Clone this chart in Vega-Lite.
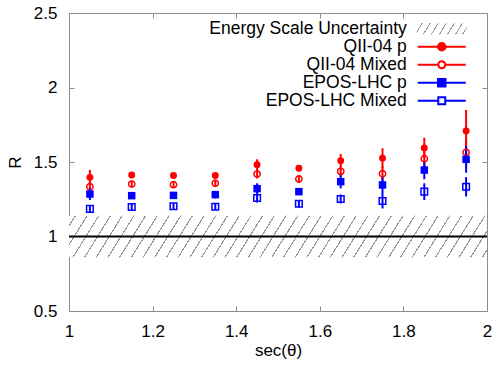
{
  "$schema": "https://vega.github.io/schema/vega-lite/v6.json",
  "width": 418,
  "height": 298,
  "autosize": {"type": "none"},
  "padding": {"left": 69, "top": 13, "right": 10, "bottom": 55},
  "background": "white",
  "config": {
    "font": "Liberation Sans",
    "view": {"stroke": "#8c8c8c", "strokeWidth": 1},
    "axis": {
      "grid": false, "domain": false, "tickColor": "#8c8c8c", "tickSize": -5, "tickWidth": 1,
      "labelFont": "Liberation Sans", "labelFontSize": 17, "labelColor": "#000", "labelPadding": 17,
      "labelFlush": false, "labelOverlap": false, "labelBound": false,
      "titleFont": "Liberation Sans", "titleFontSize": 17, "titleFontWeight": "normal", "titleColor": "#000"
    }
  },
  "datasets": {
    "band": [{"x0": 1, "x1": 2, "lo": 0.86, "hi": 1.14}],
    "ref": [{"R": 1}],
    "pts": [
      {"x": 1.05, "series": "QII-04 p", "R": 1.397, "lo": 1.347, "hi": 1.447},
      {"x": 1.15, "series": "QII-04 p", "R": 1.413, "lo": 1.393, "hi": 1.433},
      {"x": 1.25, "series": "QII-04 p", "R": 1.410, "lo": 1.390, "hi": 1.430},
      {"x": 1.35, "series": "QII-04 p", "R": 1.410, "lo": 1.390, "hi": 1.430},
      {"x": 1.45, "series": "QII-04 p", "R": 1.482, "lo": 1.446, "hi": 1.518},
      {"x": 1.55, "series": "QII-04 p", "R": 1.458, "lo": 1.436, "hi": 1.480},
      {"x": 1.65, "series": "QII-04 p", "R": 1.509, "lo": 1.464, "hi": 1.554},
      {"x": 1.75, "series": "QII-04 p", "R": 1.525, "lo": 1.458, "hi": 1.592},
      {"x": 1.85, "series": "QII-04 p", "R": 1.594, "lo": 1.525, "hi": 1.663},
      {"x": 1.95, "series": "QII-04 p", "R": 1.708, "lo": 1.567, "hi": 1.849},
      {"x": 1.05, "series": "QII-04 Mixed", "R": 1.334, "lo": 1.304, "hi": 1.364},
      {"x": 1.15, "series": "QII-04 Mixed", "R": 1.352, "lo": 1.332, "hi": 1.372},
      {"x": 1.25, "series": "QII-04 Mixed", "R": 1.348, "lo": 1.328, "hi": 1.368},
      {"x": 1.35, "series": "QII-04 Mixed", "R": 1.357, "lo": 1.332, "hi": 1.382},
      {"x": 1.45, "series": "QII-04 Mixed", "R": 1.419, "lo": 1.389, "hi": 1.449},
      {"x": 1.55, "series": "QII-04 Mixed", "R": 1.386, "lo": 1.361, "hi": 1.411},
      {"x": 1.65, "series": "QII-04 Mixed", "R": 1.437, "lo": 1.402, "hi": 1.472},
      {"x": 1.75, "series": "QII-04 Mixed", "R": 1.421, "lo": 1.371, "hi": 1.471},
      {"x": 1.85, "series": "QII-04 Mixed", "R": 1.522, "lo": 1.467, "hi": 1.577},
      {"x": 1.95, "series": "QII-04 Mixed", "R": 1.565, "lo": 1.475, "hi": 1.655},
      {"x": 1.05, "series": "EPOS-LHC p", "R": 1.285, "lo": 1.245, "hi": 1.325},
      {"x": 1.15, "series": "EPOS-LHC p", "R": 1.274, "lo": 1.254, "hi": 1.294},
      {"x": 1.25, "series": "EPOS-LHC p", "R": 1.276, "lo": 1.256, "hi": 1.296},
      {"x": 1.35, "series": "EPOS-LHC p", "R": 1.281, "lo": 1.256, "hi": 1.306},
      {"x": 1.45, "series": "EPOS-LHC p", "R": 1.321, "lo": 1.285, "hi": 1.357},
      {"x": 1.55, "series": "EPOS-LHC p", "R": 1.301, "lo": 1.281, "hi": 1.321},
      {"x": 1.65, "series": "EPOS-LHC p", "R": 1.368, "lo": 1.323, "hi": 1.413},
      {"x": 1.75, "series": "EPOS-LHC p", "R": 1.346, "lo": 1.286, "hi": 1.406},
      {"x": 1.85, "series": "EPOS-LHC p", "R": 1.446, "lo": 1.384, "hi": 1.508},
      {"x": 1.95, "series": "EPOS-LHC p", "R": 1.518, "lo": 1.428, "hi": 1.608},
      {"x": 1.05, "series": "EPOS-LHC Mixed", "R": 1.185, "lo": 1.165, "hi": 1.205},
      {"x": 1.15, "series": "EPOS-LHC Mixed", "R": 1.198, "lo": 1.178, "hi": 1.218},
      {"x": 1.25, "series": "EPOS-LHC Mixed", "R": 1.203, "lo": 1.183, "hi": 1.223},
      {"x": 1.35, "series": "EPOS-LHC Mixed", "R": 1.200, "lo": 1.180, "hi": 1.220},
      {"x": 1.45, "series": "EPOS-LHC Mixed", "R": 1.258, "lo": 1.228, "hi": 1.288},
      {"x": 1.55, "series": "EPOS-LHC Mixed", "R": 1.220, "lo": 1.195, "hi": 1.245},
      {"x": 1.65, "series": "EPOS-LHC Mixed", "R": 1.252, "lo": 1.222, "hi": 1.282},
      {"x": 1.75, "series": "EPOS-LHC Mixed", "R": 1.238, "lo": 1.188, "hi": 1.288},
      {"x": 1.85, "series": "EPOS-LHC Mixed", "R": 1.301, "lo": 1.245, "hi": 1.357},
      {"x": 1.95, "series": "EPOS-LHC Mixed", "R": 1.334, "lo": 1.269, "hi": 1.399}
    ]
  },
  "resolve": {"axis": {"x": "independent", "y": "independent"}},
  "layer": [
    {
      "data": {"name": "band"},
      "mark": {
        "type": "rect", "strokeWidth": 0,
        "fill": {
          "gradient": "linear", "x1": 0, "y1": 0, "x2": 1.0582, "y2": 0.0659,
          "stops": [
            {"offset": 0.0130, "color": "#fff"}, {"offset": 0.0130, "color": "#999"}, {"offset": 0.0160, "color": "#999"}, {"offset": 0.0160, "color": "#fff"},
            {"offset": 0.0394, "color": "#fff"}, {"offset": 0.0394, "color": "#999"}, {"offset": 0.0424, "color": "#999"}, {"offset": 0.0424, "color": "#fff"},
            {"offset": 0.0657, "color": "#fff"}, {"offset": 0.0657, "color": "#999"}, {"offset": 0.0687, "color": "#999"}, {"offset": 0.0687, "color": "#fff"},
            {"offset": 0.0921, "color": "#fff"}, {"offset": 0.0921, "color": "#999"}, {"offset": 0.0951, "color": "#999"}, {"offset": 0.0951, "color": "#fff"},
            {"offset": 0.1184, "color": "#fff"}, {"offset": 0.1184, "color": "#999"}, {"offset": 0.1214, "color": "#999"}, {"offset": 0.1214, "color": "#fff"},
            {"offset": 0.1448, "color": "#fff"}, {"offset": 0.1448, "color": "#999"}, {"offset": 0.1478, "color": "#999"}, {"offset": 0.1478, "color": "#fff"},
            {"offset": 0.1711, "color": "#fff"}, {"offset": 0.1711, "color": "#999"}, {"offset": 0.1741, "color": "#999"}, {"offset": 0.1741, "color": "#fff"},
            {"offset": 0.1975, "color": "#fff"}, {"offset": 0.1975, "color": "#999"}, {"offset": 0.2005, "color": "#999"}, {"offset": 0.2005, "color": "#fff"},
            {"offset": 0.2238, "color": "#fff"}, {"offset": 0.2238, "color": "#999"}, {"offset": 0.2268, "color": "#999"}, {"offset": 0.2268, "color": "#fff"},
            {"offset": 0.2502, "color": "#fff"}, {"offset": 0.2502, "color": "#999"}, {"offset": 0.2532, "color": "#999"}, {"offset": 0.2532, "color": "#fff"},
            {"offset": 0.2765, "color": "#fff"}, {"offset": 0.2765, "color": "#999"}, {"offset": 0.2795, "color": "#999"}, {"offset": 0.2795, "color": "#fff"},
            {"offset": 0.3029, "color": "#fff"}, {"offset": 0.3029, "color": "#999"}, {"offset": 0.3059, "color": "#999"}, {"offset": 0.3059, "color": "#fff"},
            {"offset": 0.3292, "color": "#fff"}, {"offset": 0.3292, "color": "#999"}, {"offset": 0.3322, "color": "#999"}, {"offset": 0.3322, "color": "#fff"},
            {"offset": 0.3556, "color": "#fff"}, {"offset": 0.3556, "color": "#999"}, {"offset": 0.3586, "color": "#999"}, {"offset": 0.3586, "color": "#fff"},
            {"offset": 0.3819, "color": "#fff"}, {"offset": 0.3819, "color": "#999"}, {"offset": 0.3849, "color": "#999"}, {"offset": 0.3849, "color": "#fff"},
            {"offset": 0.4083, "color": "#fff"}, {"offset": 0.4083, "color": "#999"}, {"offset": 0.4113, "color": "#999"}, {"offset": 0.4113, "color": "#fff"},
            {"offset": 0.4346, "color": "#fff"}, {"offset": 0.4346, "color": "#999"}, {"offset": 0.4376, "color": "#999"}, {"offset": 0.4376, "color": "#fff"},
            {"offset": 0.4610, "color": "#fff"}, {"offset": 0.4610, "color": "#999"}, {"offset": 0.4640, "color": "#999"}, {"offset": 0.4640, "color": "#fff"},
            {"offset": 0.4873, "color": "#fff"}, {"offset": 0.4873, "color": "#999"}, {"offset": 0.4903, "color": "#999"}, {"offset": 0.4903, "color": "#fff"},
            {"offset": 0.5137, "color": "#fff"}, {"offset": 0.5137, "color": "#999"}, {"offset": 0.5167, "color": "#999"}, {"offset": 0.5167, "color": "#fff"},
            {"offset": 0.5400, "color": "#fff"}, {"offset": 0.5400, "color": "#999"}, {"offset": 0.5430, "color": "#999"}, {"offset": 0.5430, "color": "#fff"},
            {"offset": 0.5664, "color": "#fff"}, {"offset": 0.5664, "color": "#999"}, {"offset": 0.5694, "color": "#999"}, {"offset": 0.5694, "color": "#fff"},
            {"offset": 0.5927, "color": "#fff"}, {"offset": 0.5927, "color": "#999"}, {"offset": 0.5957, "color": "#999"}, {"offset": 0.5957, "color": "#fff"},
            {"offset": 0.6191, "color": "#fff"}, {"offset": 0.6191, "color": "#999"}, {"offset": 0.6221, "color": "#999"}, {"offset": 0.6221, "color": "#fff"},
            {"offset": 0.6454, "color": "#fff"}, {"offset": 0.6454, "color": "#999"}, {"offset": 0.6484, "color": "#999"}, {"offset": 0.6484, "color": "#fff"},
            {"offset": 0.6718, "color": "#fff"}, {"offset": 0.6718, "color": "#999"}, {"offset": 0.6748, "color": "#999"}, {"offset": 0.6748, "color": "#fff"},
            {"offset": 0.6981, "color": "#fff"}, {"offset": 0.6981, "color": "#999"}, {"offset": 0.7011, "color": "#999"}, {"offset": 0.7011, "color": "#fff"},
            {"offset": 0.7245, "color": "#fff"}, {"offset": 0.7245, "color": "#999"}, {"offset": 0.7275, "color": "#999"}, {"offset": 0.7275, "color": "#fff"},
            {"offset": 0.7508, "color": "#fff"}, {"offset": 0.7508, "color": "#999"}, {"offset": 0.7538, "color": "#999"}, {"offset": 0.7538, "color": "#fff"},
            {"offset": 0.7772, "color": "#fff"}, {"offset": 0.7772, "color": "#999"}, {"offset": 0.7802, "color": "#999"}, {"offset": 0.7802, "color": "#fff"},
            {"offset": 0.8035, "color": "#fff"}, {"offset": 0.8035, "color": "#999"}, {"offset": 0.8065, "color": "#999"}, {"offset": 0.8065, "color": "#fff"},
            {"offset": 0.8299, "color": "#fff"}, {"offset": 0.8299, "color": "#999"}, {"offset": 0.8329, "color": "#999"}, {"offset": 0.8329, "color": "#fff"},
            {"offset": 0.8562, "color": "#fff"}, {"offset": 0.8562, "color": "#999"}, {"offset": 0.8592, "color": "#999"}, {"offset": 0.8592, "color": "#fff"},
            {"offset": 0.8826, "color": "#fff"}, {"offset": 0.8826, "color": "#999"}, {"offset": 0.8856, "color": "#999"}, {"offset": 0.8856, "color": "#fff"},
            {"offset": 0.9089, "color": "#fff"}, {"offset": 0.9089, "color": "#999"}, {"offset": 0.9119, "color": "#999"}, {"offset": 0.9119, "color": "#fff"},
            {"offset": 0.9353, "color": "#fff"}, {"offset": 0.9353, "color": "#999"}, {"offset": 0.9383, "color": "#999"}, {"offset": 0.9383, "color": "#fff"},
            {"offset": 0.9616, "color": "#fff"}, {"offset": 0.9616, "color": "#999"}, {"offset": 0.9646, "color": "#999"}, {"offset": 0.9646, "color": "#fff"},
            {"offset": 0.9880, "color": "#fff"}, {"offset": 0.9880, "color": "#999"}, {"offset": 0.9910, "color": "#999"}, {"offset": 0.9910, "color": "#fff"}
          ]
        }
      },
      "encoding": {
        "x": {"field": "x0", "type": "quantitative", "scale": {"domain": [1, 2], "nice": false, "zero": false},
              "axis": {"orient": "bottom", "values": [1, 1.2, 1.4, 1.6, 1.8, 2], "format": "~g", "title": "sec(θ)", "titlePadding": 3}},
        "x2": {"field": "x1"},
        "y": {"field": "lo", "type": "quantitative", "scale": {"domain": [0.5, 2.5], "nice": false, "zero": false},
              "axis": {"orient": "left", "values": [0.5, 1, 1.5, 2, 2.5], "format": "~g", "title": "R", "titlePadding": 9}},
        "y2": {"field": "hi"}
      }
    },
    {
      "data": {"name": "ref"},
      "mark": {"type": "rule", "color": "#000", "strokeWidth": 2},
      "encoding": {
        "y": {"field": "R", "type": "quantitative", "scale": {"domain": [0.5, 2.5], "nice": false, "zero": false}, "axis": null}
      }
    },
    {
      "data": {"name": "pts"},
      "mark": {"type": "rule", "strokeWidth": 2},
      "encoding": {
        "x": {"field": "x", "type": "quantitative", "scale": {"domain": [1, 2], "nice": false, "zero": false},
              "axis": {"orient": "top", "values": [1, 1.2, 1.4, 1.6, 1.8, 2], "labels": false, "title": null}},
        "y": {"field": "lo", "type": "quantitative", "scale": {"domain": [0.5, 2.5], "nice": false, "zero": false},
              "axis": {"orient": "right", "values": [0.5, 1, 1.5, 2, 2.5], "labels": false, "title": null}},
        "y2": {"field": "hi"},
        "color": {
          "field": "series", "type": "nominal",
          "scale": {"domain": ["Energy Scale Uncertainty", "QII-04 p", "QII-04 Mixed", "EPOS-LHC p", "EPOS-LHC Mixed"], "range": [{"expr": "{gradient: 'linear', x1: 0, y1: 0, x2: 1.102, y2: 0.129, stops: [{offset: 0.06, color: '#fff'}, {offset: 0.06, color: '#999'}, {offset: 0.082, color: '#999'}, {offset: 0.082, color: '#fff'}, {offset: 0.21, color: '#fff'}, {offset: 0.21, color: '#999'}, {offset: 0.232, color: '#999'}, {offset: 0.232, color: '#fff'}, {offset: 0.36, color: '#fff'}, {offset: 0.36, color: '#999'}, {offset: 0.382, color: '#999'}, {offset: 0.382, color: '#fff'}, {offset: 0.51, color: '#fff'}, {offset: 0.51, color: '#999'}, {offset: 0.532, color: '#999'}, {offset: 0.532, color: '#fff'}, {offset: 0.66, color: '#fff'}, {offset: 0.66, color: '#999'}, {offset: 0.682, color: '#999'}, {offset: 0.682, color: '#fff'}, {offset: 0.81, color: '#fff'}, {offset: 0.81, color: '#999'}, {offset: 0.832, color: '#999'}, {offset: 0.832, color: '#fff'}, {offset: 0.94, color: '#fff'}, {offset: 0.94, color: '#999'}, {offset: 0.962, color: '#999'}, {offset: 0.962, color: '#fff'}]}"}, "#ff0000", "#ff0000", "#0000ff", "#0000ff"]},
          "legend": {
            "orient": "none", "legendX": 364, "legendY": 7, "title": null, "padding": 0,
            "labelFont": "Liberation Sans", "labelFontSize": 17.5, "labelColor": "#000",
            "labelAlign": "right", "labelOffset": -43.75, "labelLimit": 400,
            "symbolSize": 144, "symbolStrokeWidth": 2, "rowPadding": -1,
            "encode": {
              "symbols": {
                "update": {
                  "size": {"value": 144},
                  "opacity": {"value": 1},
                  "fillOpacity": {"signal": "indexof(datum.value, 'Mixed') >= 0 ? 0 : 1"},
                  "shape": {"signal": "datum.value === 'Energy Scale Uncertainty' ? 'M-4,-0.75H4V0.75H-4Z' : datum.value === 'QII-04 p' ? 'M-4,0H4M-0.625,0A0.625,0.625,0,1,1,0.625,0A0.625,0.625,0,1,1,-0.625,0Z' : datum.value === 'QII-04 Mixed' ? 'M-4,0H-0.583M0.583,0H4M-0.583,0A0.583,0.583,0,1,1,0.583,0A0.583,0.583,0,1,1,-0.583,0Z' : datum.value === 'EPOS-LHC p' ? 'M-4,0H4M-0.625,-0.625H0.625V0.625H-0.625Z' : 'M-4,0H-0.583M0.583,0H4M-0.583,-0.583H0.583V0.583H-0.583Z'"},
                  "stroke": {"signal": "datum.value === 'Energy Scale Uncertainty' ? '#b0b0b0' : indexof(datum.value, 'QII') >= 0 ? '#ff0000' : '#0000ff'"}
                }
              }
            }
          }
        }
      }
    },
    {
      "data": {"name": "pts"},
      "transform": [{"filter": "datum.series === 'QII-04 p'"}],
      "mark": {"type": "point", "shape": "circle", "filled": true, "size": 48, "opacity": 1},
      "encoding": {
        "x": {"field": "x", "type": "quantitative", "scale": {"domain": [1, 2], "nice": false, "zero": false}, "axis": null},
        "y": {"field": "R", "type": "quantitative", "scale": {"domain": [0.5, 2.5], "nice": false, "zero": false}, "axis": null},
        "color": {"field": "series", "type": "nominal"}
      }
    },
    {
      "data": {"name": "pts"},
      "transform": [{"filter": "datum.series === 'QII-04 Mixed'"}],
      "mark": {"type": "point", "shape": "circle", "filled": false, "size": 40, "strokeWidth": 1.5, "opacity": 1},
      "encoding": {
        "x": {"field": "x", "type": "quantitative", "scale": {"domain": [1, 2], "nice": false, "zero": false}, "axis": null},
        "y": {"field": "R", "type": "quantitative", "scale": {"domain": [0.5, 2.5], "nice": false, "zero": false}, "axis": null},
        "color": {"field": "series", "type": "nominal"}
      }
    },
    {
      "data": {"name": "pts"},
      "transform": [{"filter": "datum.series === 'EPOS-LHC p'"}],
      "mark": {"type": "point", "shape": "square", "filled": true, "size": 56, "opacity": 1},
      "encoding": {
        "x": {"field": "x", "type": "quantitative", "scale": {"domain": [1, 2], "nice": false, "zero": false}, "axis": null},
        "y": {"field": "R", "type": "quantitative", "scale": {"domain": [0.5, 2.5], "nice": false, "zero": false}, "axis": null},
        "color": {"field": "series", "type": "nominal"}
      }
    },
    {
      "data": {"name": "pts"},
      "transform": [{"filter": "datum.series === 'EPOS-LHC Mixed'"}],
      "mark": {"type": "point", "shape": "square", "filled": false, "size": 44, "strokeWidth": 1.5, "opacity": 1},
      "encoding": {
        "x": {"field": "x", "type": "quantitative", "scale": {"domain": [1, 2], "nice": false, "zero": false}, "axis": null},
        "y": {"field": "R", "type": "quantitative", "scale": {"domain": [0.5, 2.5], "nice": false, "zero": false}, "axis": null},
        "color": {"field": "series", "type": "nominal"}
      }
    }
  ]
}
